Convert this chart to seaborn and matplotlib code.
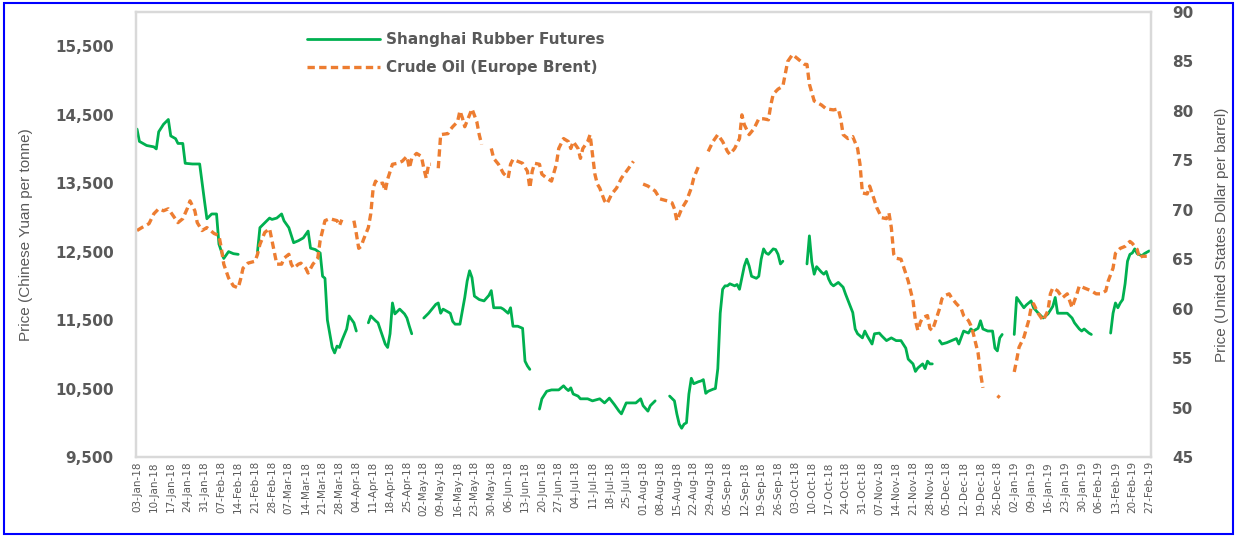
import numpy as np
import pandas as pd
import matplotlib
matplotlib.use("Agg")
import matplotlib.pyplot as plt
from matplotlib.lines import Line2D
from matplotlib.patches import Rectangle
from matplotlib import font_manager as fm
import seaborn as sns

NA = np.nan

rubber_label = "Shanghai Rubber Futures"
brent_label = "Crude Oil (Europe Brent)"
left_ylabel = "Price (Chinese Yuan per tonne)"
right_ylabel = "Price (United States Dollar per barrel)"

left_ticks = [9500, 10500, 11500, 12500, 13500, 14500, 15500]
right_ticks = [45, 50, 55, 60, 65, 70, 75, 80, 85, 90]
x_start, x_end = "2018-01-03", "2019-02-27"

# Shanghai rubber futures (CNY/tonne); NA marks a gap in the series
rubber = [
    ("2018-01-03", 14290), ("2018-01-04", 14110), ("2018-01-07", 14050), ("2018-01-10", 14030),
    ("2018-01-11", 14000), ("2018-01-12", 14250), ("2018-01-14", 14360), ("2018-01-16", 14430),
    ("2018-01-17", 14190), ("2018-01-19", 14150), ("2018-01-20", 14080), ("2018-01-22", 14080),
    ("2018-01-23", 13790), ("2018-01-26", 13780), ("2018-01-29", 13780), ("2018-01-31", 13240),
    ("2018-02-01", 12980), ("2018-02-03", 13050), ("2018-02-05", 13050), ("2018-02-06", 12610),
    ("2018-02-08", 12400), ("2018-02-10", 12500), ("2018-02-12", 12470), ("2018-02-14", 12460),
    ("2018-02-18", NA),
    ("2018-02-22", 12500), ("2018-02-23", 12850), ("2018-02-25", 12920), ("2018-02-27", 12990),
    ("2018-02-28", 12970), ("2018-03-02", 12990), ("2018-03-04", 13050), ("2018-03-05", 12950),
    ("2018-03-07", 12850), ("2018-03-09", 12630), ("2018-03-11", 12660), ("2018-03-13", 12700),
    ("2018-03-15", 12800), ("2018-03-16", 12550), ("2018-03-18", 12530), ("2018-03-20", 12480),
    ("2018-03-21", 12140), ("2018-03-22", 12110), ("2018-03-23", 11500), ("2018-03-25", 11100),
    ("2018-03-26", 11020), ("2018-03-27", 11120), ("2018-03-28", 11100), ("2018-03-29", 11200),
    ("2018-03-31", 11370), ("2018-04-01", 11560), ("2018-04-03", 11460), ("2018-04-04", 11340),
    ("2018-04-06", NA),
    ("2018-04-09", 11460), ("2018-04-10", 11560), ("2018-04-12", 11490), ("2018-04-13", 11460),
    ("2018-04-16", 11150), ("2018-04-17", 11100), ("2018-04-18", 11300), ("2018-04-19", 11750),
    ("2018-04-20", 11590), ("2018-04-22", 11660), ("2018-04-24", 11590), ("2018-04-25", 11530),
    ("2018-04-26", 11410), ("2018-04-27", 11300),
    ("2018-04-30", NA),
    ("2018-05-02", 11530), ("2018-05-04", 11600), ("2018-05-07", 11730), ("2018-05-08", 11750),
    ("2018-05-09", 11600), ("2018-05-10", 11660), ("2018-05-13", 11600), ("2018-05-14", 11480),
    ("2018-05-15", 11440), ("2018-05-17", 11440), ("2018-05-19", 11830), ("2018-05-20", 12070),
    ("2018-05-21", 12220), ("2018-05-22", 12120), ("2018-05-23", 11850), ("2018-05-25", 11800),
    ("2018-05-27", 11780), ("2018-05-29", 11860), ("2018-05-30", 11930), ("2018-05-31", 11680),
    ("2018-06-03", 11680), ("2018-06-04", 11660), ("2018-06-06", 11600), ("2018-06-07", 11680),
    ("2018-06-08", 11410), ("2018-06-10", 11410), ("2018-06-12", 11380), ("2018-06-13", 10900),
    ("2018-06-14", 10830), ("2018-06-15", 10780),
    ("2018-06-17", NA),
    ("2018-06-19", 10200), ("2018-06-20", 10350), ("2018-06-22", 10460), ("2018-06-24", 10480),
    ("2018-06-27", 10480), ("2018-06-29", 10540), ("2018-06-30", 10500), ("2018-07-01", 10470),
    ("2018-07-02", 10510), ("2018-07-03", 10420), ("2018-07-05", 10390), ("2018-07-06", 10350),
    ("2018-07-09", 10350), ("2018-07-11", 10320), ("2018-07-14", 10350), ("2018-07-16", 10290),
    ("2018-07-18", 10360), ("2018-07-20", 10270), ("2018-07-22", 10170), ("2018-07-23", 10130),
    ("2018-07-25", 10290), ("2018-07-27", 10290), ("2018-07-29", 10290), ("2018-07-31", 10350),
    ("2018-08-01", 10250), ("2018-08-03", 10170), ("2018-08-04", 10250), ("2018-08-06", 10320),
    ("2018-08-09", NA),
    ("2018-08-12", 10390), ("2018-08-14", 10320), ("2018-08-15", 10130), ("2018-08-16", 9980),
    ("2018-08-17", 9920), ("2018-08-18", 9980), ("2018-08-19", 10000), ("2018-08-20", 10420),
    ("2018-08-21", 10650), ("2018-08-22", 10570), ("2018-08-24", 10600), ("2018-08-25", 10610),
    ("2018-08-26", 10630), ("2018-08-27", 10430), ("2018-08-28", 10460), ("2018-08-30", 10490),
    ("2018-08-31", 10500), ("2018-09-01", 10790), ("2018-09-02", 11600), ("2018-09-03", 11950),
    ("2018-09-04", 12000), ("2018-09-05", 12000), ("2018-09-06", 12030), ("2018-09-08", 12000),
    ("2018-09-09", 12020), ("2018-09-10", 11950), ("2018-09-12", 12290), ("2018-09-13", 12390),
    ("2018-09-14", 12290), ("2018-09-15", 12140), ("2018-09-17", 12110), ("2018-09-18", 12140),
    ("2018-09-19", 12390), ("2018-09-20", 12540), ("2018-09-21", 12480), ("2018-09-22", 12460),
    ("2018-09-24", 12540), ("2018-09-25", 12530), ("2018-09-26", 12460), ("2018-09-27", 12320),
    ("2018-09-28", 12360),
    ("2018-10-03", NA),
    ("2018-10-08", 12320), ("2018-10-09", 12730), ("2018-10-10", 12350), ("2018-10-11", 12170),
    ("2018-10-12", 12280), ("2018-10-13", 12240), ("2018-10-14", 12200), ("2018-10-15", 12170),
    ("2018-10-16", 12210), ("2018-10-17", 12100), ("2018-10-18", 12030), ("2018-10-19", 12000),
    ("2018-10-21", 12050), ("2018-10-23", 11980), ("2018-10-24", 11880), ("2018-10-25", 11790),
    ("2018-10-27", 11610), ("2018-10-28", 11370), ("2018-10-29", 11300), ("2018-10-31", 11240),
    ("2018-11-01", 11340), ("2018-11-02", 11270), ("2018-11-04", 11150), ("2018-11-05", 11300),
    ("2018-11-07", 11310), ("2018-11-08", 11270), ("2018-11-10", 11200), ("2018-11-12", 11240),
    ("2018-11-14", 11200), ("2018-11-16", 11200), ("2018-11-18", 11090), ("2018-11-19", 10930),
    ("2018-11-21", 10860), ("2018-11-22", 10750), ("2018-11-23", 10800), ("2018-11-25", 10860),
    ("2018-11-26", 10790), ("2018-11-27", 10900), ("2018-11-28", 10860), ("2018-11-29", 10860),
    ("2018-11-30", NA),
    ("2018-12-02", 11200), ("2018-12-03", 11150), ("2018-12-05", 11170), ("2018-12-07", 11200),
    ("2018-12-09", 11230), ("2018-12-10", 11150), ("2018-12-12", 11340), ("2018-12-14", 11310),
    ("2018-12-15", 11370), ("2018-12-16", 11340), ("2018-12-18", 11380), ("2018-12-19", 11490),
    ("2018-12-20", 11370), ("2018-12-22", 11340), ("2018-12-24", 11340), ("2018-12-25", 11090),
    ("2018-12-26", 11050), ("2018-12-27", 11240), ("2018-12-28", 11290),
    ("2018-12-30", NA),
    ("2019-01-02", 11290), ("2019-01-03", 11830), ("2019-01-04", 11780), ("2019-01-06", 11680),
    ("2019-01-07", 11720), ("2019-01-09", 11780), ("2019-01-10", 11680), ("2019-01-12", 11600),
    ("2019-01-14", 11530), ("2019-01-16", 11590), ("2019-01-18", 11700), ("2019-01-19", 11830),
    ("2019-01-20", 11600), ("2019-01-22", 11600), ("2019-01-24", 11600), ("2019-01-26", 11530),
    ("2019-01-27", 11460), ("2019-01-29", 11370), ("2019-01-30", 11340), ("2019-01-31", 11370),
    ("2019-02-02", 11310), ("2019-02-03", 11290),
    ("2019-02-07", NA),
    ("2019-02-11", 11310), ("2019-02-12", 11600), ("2019-02-13", 11750), ("2019-02-14", 11680),
    ("2019-02-15", 11750), ("2019-02-16", 11800), ("2019-02-17", 12030), ("2019-02-18", 12360),
    ("2019-02-19", 12460), ("2019-02-20", 12480), ("2019-02-21", 12540), ("2019-02-22", 12470),
    ("2019-02-24", 12440), ("2019-02-25", 12470), ("2019-02-27", 12510),
]

# Europe Brent crude oil (USD/barrel); NA marks a gap in the series
brent = [
    ("2018-01-03", 67.9), ("2018-01-05", 68.2), ("2018-01-08", 68.6), ("2018-01-10", 69.6),
    ("2018-01-12", 70.1), ("2018-01-14", 69.9), ("2018-01-16", 70.1), ("2018-01-18", 69.4),
    ("2018-01-20", 68.7), ("2018-01-22", 69.1), ("2018-01-24", 70.2), ("2018-01-25", 70.9),
    ("2018-01-27", 69.9), ("2018-01-28", 68.7), ("2018-01-30", 67.9), ("2018-02-01", 68.2),
    ("2018-02-04", 67.6), ("2018-02-06", 67.4), ("2018-02-07", 66.1), ("2018-02-08", 64.5),
    ("2018-02-10", 63.1), ("2018-02-12", 62.3), ("2018-02-14", 62.1), ("2018-02-15", 63.0),
    ("2018-02-16", 64.1), ("2018-02-18", 64.6), ("2018-02-21", 64.8), ("2018-02-22", 65.5),
    ("2018-02-23", 66.5), ("2018-02-25", 67.7), ("2018-02-27", 68.1), ("2018-02-28", 66.9),
    ("2018-03-02", 64.5), ("2018-03-04", 64.5), ("2018-03-05", 65.1), ("2018-03-07", 65.5),
    ("2018-03-08", 64.5), ("2018-03-09", 64.1), ("2018-03-11", 64.5), ("2018-03-12", 64.6),
    ("2018-03-14", 64.1), ("2018-03-15", 63.6), ("2018-03-17", 64.5), ("2018-03-19", 65.1),
    ("2018-03-20", 66.9), ("2018-03-22", 68.9), ("2018-03-24", 69.1), ("2018-03-27", 68.9),
    ("2018-03-28", 68.4), ("2018-03-29", 69.0),
    ("2018-03-31", NA),
    ("2018-04-03", 68.9), ("2018-04-04", 67.6), ("2018-04-05", 66.1), ("2018-04-06", 66.3),
    ("2018-04-07", 67.0), ("2018-04-09", 68.2), ("2018-04-10", 69.6), ("2018-04-11", 72.2),
    ("2018-04-12", 72.9), ("2018-04-13", 72.6), ("2018-04-15", 72.7), ("2018-04-16", 71.9),
    ("2018-04-17", 73.1), ("2018-04-19", 74.6), ("2018-04-21", 74.7), ("2018-04-23", 74.9),
    ("2018-04-25", 75.4), ("2018-04-26", 74.2), ("2018-04-27", 75.2), ("2018-04-29", 75.7),
    ("2018-05-01", 75.4), ("2018-05-02", 74.2), ("2018-05-03", 73.2), ("2018-05-04", 74.6),
    ("2018-05-05", 74.6),
    ("2018-05-07", NA),
    ("2018-05-08", 74.2), ("2018-05-09", 77.6), ("2018-05-12", 77.7), ("2018-05-13", 78.1),
    ("2018-05-14", 78.4), ("2018-05-16", 78.9), ("2018-05-17", 80.0), ("2018-05-18", 79.3),
    ("2018-05-19", 78.4), ("2018-05-21", 79.6), ("2018-05-22", 80.2), ("2018-05-24", 78.9),
    ("2018-05-25", 77.6), ("2018-05-26", 76.6),
    ("2018-05-28", NA),
    ("2018-05-30", 76.2), ("2018-05-31", 75.2), ("2018-06-02", 74.6), ("2018-06-04", 73.7),
    ("2018-06-06", 73.2), ("2018-06-07", 74.6), ("2018-06-08", 75.1), ("2018-06-10", 74.9),
    ("2018-06-12", 74.7), ("2018-06-14", 73.9), ("2018-06-15", 72.2), ("2018-06-16", 73.9),
    ("2018-06-17", 74.7), ("2018-06-19", 74.6), ("2018-06-20", 73.6), ("2018-06-22", 73.2),
    ("2018-06-24", 72.9), ("2018-06-26", 74.6), ("2018-06-27", 76.2), ("2018-06-29", 77.2),
    ("2018-07-01", 76.9), ("2018-07-02", 76.2), ("2018-07-03", 76.9), ("2018-07-05", 76.2),
    ("2018-07-06", 75.2), ("2018-07-07", 76.2), ("2018-07-09", 76.9), ("2018-07-10", 77.6),
    ("2018-07-11", 75.6), ("2018-07-12", 73.6), ("2018-07-13", 72.6), ("2018-07-14", 72.2),
    ("2018-07-16", 70.9), ("2018-07-17", 70.6), ("2018-07-19", 71.6), ("2018-07-21", 72.2),
    ("2018-07-23", 73.2), ("2018-07-26", 74.2), ("2018-07-28", 74.9),
    ("2018-07-30", NA),
    ("2018-08-01", 72.6), ("2018-08-03", 72.4), ("2018-08-06", 71.9), ("2018-08-08", 71.1),
    ("2018-08-11", 70.9), ("2018-08-13", 70.7), ("2018-08-14", 70.1), ("2018-08-15", 68.9),
    ("2018-08-17", 70.1), ("2018-08-19", 70.9), ("2018-08-21", 72.2), ("2018-08-22", 73.2),
    ("2018-08-24", 74.4),
    ("2018-08-26", NA),
    ("2018-08-28", 75.9), ("2018-08-30", 76.9), ("2018-09-01", 77.6), ("2018-09-03", 76.9),
    ("2018-09-05", 75.9), ("2018-09-06", 75.6), ("2018-09-08", 76.2), ("2018-09-10", 77.2),
    ("2018-09-11", 79.6), ("2018-09-12", 78.6), ("2018-09-14", 77.6), ("2018-09-16", 78.2),
    ("2018-09-18", 79.2), ("2018-09-20", 79.2), ("2018-09-22", 79.1), ("2018-09-23", 80.6),
    ("2018-09-24", 81.7), ("2018-09-26", 82.2), ("2018-09-28", 82.5), ("2018-09-30", 85.0),
    ("2018-10-02", 85.7), ("2018-10-04", 85.3), ("2018-10-07", 84.7), ("2018-10-08", 84.7),
    ("2018-10-09", 82.7), ("2018-10-11", 81.0), ("2018-10-14", 80.6), ("2018-10-16", 80.2),
    ("2018-10-19", 80.1), ("2018-10-21", 80.2), ("2018-10-22", 79.2), ("2018-10-23", 77.6),
    ("2018-10-25", 77.2), ("2018-10-27", 77.4), ("2018-10-29", 76.2), ("2018-10-30", 74.6),
    ("2018-10-31", 71.7), ("2018-11-02", 71.6), ("2018-11-03", 72.4), ("2018-11-04", 71.7),
    ("2018-11-06", 70.2), ("2018-11-08", 69.2), ("2018-11-10", 69.1), ("2018-11-11", 69.7),
    ("2018-11-12", 68.2), ("2018-11-13", 65.5), ("2018-11-14", 65.1), ("2018-11-16", 65.0),
    ("2018-11-17", 64.3), ("2018-11-19", 62.8), ("2018-11-20", 61.8), ("2018-11-21", 60.8),
    ("2018-11-22", 58.8), ("2018-11-23", 57.8), ("2018-11-24", 58.6), ("2018-11-25", 59.1),
    ("2018-11-27", 59.3), ("2018-11-28", 58.0), ("2018-11-29", 57.8), ("2018-11-30", 58.5),
    ("2018-12-02", 60.0), ("2018-12-03", 61.0), ("2018-12-04", 61.3), ("2018-12-06", 61.5),
    ("2018-12-07", 61.1), ("2018-12-09", 60.5), ("2018-12-11", 60.0), ("2018-12-12", 59.3),
    ("2018-12-14", 58.8), ("2018-12-15", 58.3), ("2018-12-16", 57.5), ("2018-12-18", 55.5),
    ("2018-12-19", 53.5), ("2018-12-20", 52.0),
    ("2018-12-23", NA),
    ("2018-12-26", 51.2), ("2018-12-27", 51.0),
    ("2018-12-30", NA),
    ("2019-01-02", 53.6), ("2019-01-03", 54.8), ("2019-01-04", 56.1), ("2019-01-06", 57.1),
    ("2019-01-08", 58.8), ("2019-01-09", 60.1), ("2019-01-10", 60.5), ("2019-01-12", 59.5),
    ("2019-01-14", 58.8), ("2019-01-16", 59.8), ("2019-01-17", 61.5), ("2019-01-18", 62.1),
    ("2019-01-20", 61.8), ("2019-01-22", 61.1), ("2019-01-24", 61.5), ("2019-01-26", 60.1),
    ("2019-01-28", 61.5), ("2019-01-29", 62.3), ("2019-01-31", 62.1), ("2019-02-03", 61.8),
    ("2019-02-05", 61.5), ("2019-02-07", 61.5), ("2019-02-09", 61.8), ("2019-02-10", 62.8),
    ("2019-02-12", 64.1), ("2019-02-13", 65.6), ("2019-02-15", 66.1), ("2019-02-17", 66.3),
    ("2019-02-19", 66.8), ("2019-02-20", 66.6), ("2019-02-22", 66.0), ("2019-02-23", 65.1),
    ("2019-02-24", 65.3), ("2019-02-26", 65.3),
]

GREEN = "#00B050"
ORANGE = "#ED7D31"
GRAY = "#595959"
FRAME = "#D9D9D9"


def to_frame(pairs):
    df = pd.DataFrame(pairs, columns=["date", "price"])
    df["date"] = pd.to_datetime(df["date"])
    df["seg"] = df["price"].isna().cumsum()
    return df.dropna().reset_index(drop=True)


rub = to_frame(rubber)
brn = to_frame(brent)

sns.set_style("white")
plt.rcParams["font.family"] = ["DejaVu Sans"]

avail = {f.name for f in fm.fontManager.ttflist}
if "Liberation Sans Narrow" in avail:
    label_font = dict(family=["Liberation Sans Narrow", "DejaVu Sans"], size=13)
else:
    label_font = dict(family=["Liberation Sans", "DejaVu Sans"], size=11)

W, H = 1236, 537
fig = plt.figure(figsize=(W / 100, H / 100), dpi=100)
L, R, T, B = 136, 1151, 12, 457
ax = fig.add_axes([L / W, 1 - B / H, (R - L) / W, (B - T) / H])

sns.lineplot(data=rub, x="date", y="price", units="seg", estimator=None,
             color=GREEN, linewidth=2.0, ax=ax, legend=False)
ax2 = ax.twinx()
sns.lineplot(data=brn, x="date", y="price", units="seg", estimator=None,
             color=ORANGE, linewidth=2.4, linestyle=(0, (2.2, 1.3)),
             ax=ax2, legend=False)

# x axis
ticks = pd.date_range(x_start, x_end, freq="7D")
ax.set_xticks(ticks)
ax.set_xticklabels([t.strftime("%d-%b-%y") for t in ticks], rotation=90,
                   fontsize=7.5, color=GRAY)
ax.set_xlim(pd.Timestamp(x_start) - pd.Timedelta(hours=10),
            pd.Timestamp(x_end) + pd.Timedelta(hours=18))
ax.set_xlabel("")

# y axes
ax.set_ylim(9500, 16000)
ax.set_yticks(left_ticks)
ax.set_yticklabels([f"{v:,}" for v in left_ticks], fontsize=11,
                   fontweight="bold", color=GRAY)
ax2.set_ylim(45, 90)
ax2.set_yticks(right_ticks)
ax2.set_yticklabels([str(v) for v in right_ticks], fontsize=11,
                    fontweight="bold", color=GRAY)
ax.tick_params(axis="y", length=0, pad=16)
ax.tick_params(axis="x", length=0, pad=3)
ax2.tick_params(axis="y", length=0, pad=15)

ax.set_ylabel(left_ylabel, color=GRAY, **label_font)
ax.yaxis.set_label_coords((33 - L) / (R - L), 0.5)
ax2.set_ylabel(right_ylabel, color=GRAY, **label_font)
ax2.yaxis.set_label_coords((1215 - L) / (R - L), 0.5)

for a in (ax, ax2):
    a.grid(False)
    for s in a.spines.values():
        s.set_color(FRAME)
        s.set_linewidth(1.6)

# legend
handles = [
    Line2D([], [], color=GREEN, linewidth=2.0),
    Line2D([], [], color=ORANGE, linewidth=2.4, linestyle=(0, (2.2, 1.3))),
]
leg = ax2.legend(handles, [rubber_label, brent_label], loc="upper left",
                 bbox_to_anchor=((307 - L) / (R - L), (B - 32) / (B - T)),
                 frameon=False, borderpad=0, borderaxespad=0,
                 handlelength=4.8, handletextpad=0.35, labelspacing=0.85,
                 prop={"weight": "bold", "size": 11}, labelcolor=GRAY)

# blue outer border
fig.patches.append(Rectangle((4 / W, 3 / H), 1229 / W, 531 / H,
                             transform=fig.transFigure, fill=False,
                             edgecolor="#0000FF", linewidth=1.5))

fig.savefig("out.png", dpi=100)
